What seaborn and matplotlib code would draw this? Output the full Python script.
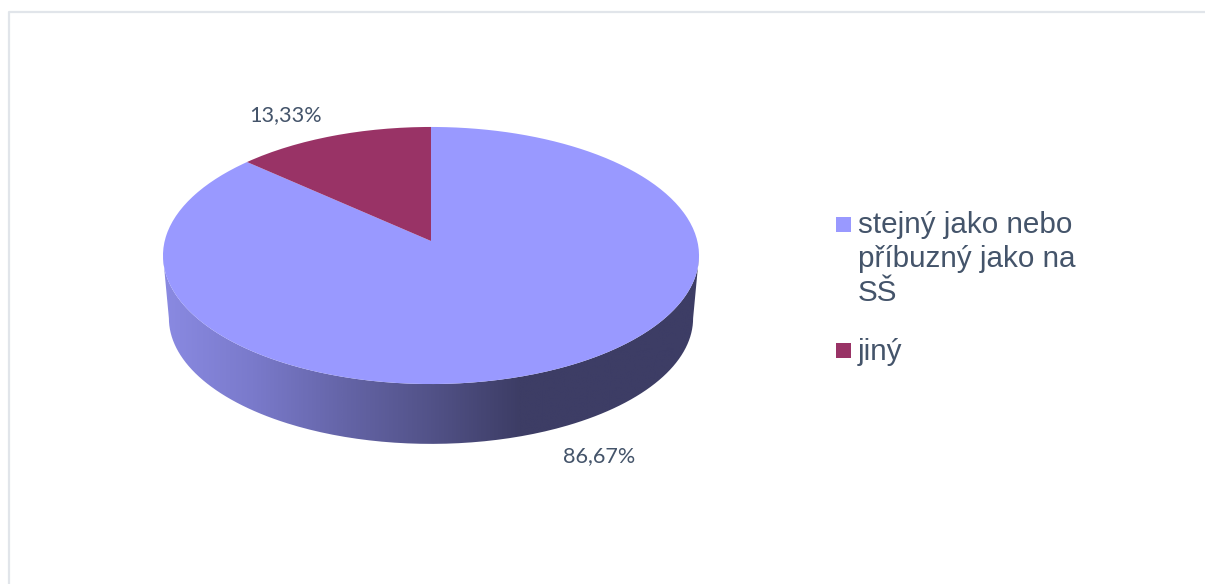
import numpy as np
import matplotlib
matplotlib.use("Agg")
import matplotlib.pyplot as plt
import seaborn as sns
from matplotlib.colors import LinearSegmentedColormap
from matplotlib.patches import PathPatch, Rectangle
from matplotlib.path import Path
from matplotlib.transforms import Affine2D, Transform

categories = ["stejný jako nebo\npříbuzný jako na\nSŠ", "jiný"]
shares = [86.67, 13.33]
slice_colors = ["#9999FF", "#993366"]
rim_colors = ["#8A8AE2", "#7A7ACB", "#6565A8", "#525288", "#3D3D65", "#3D3D65", "#3D3D65"]
text_color = "#44546A"

# perspective of the disc, in image pixels
CX, CY = 431, 241
WIDTH, DEPTH, TILT = 266.3, 126.9, 0.1128
DROP = 63
SHRINK = 0.978


def project(u, v, scale=1.0, drop=0.0):
    w = 1 + TILT * v
    return CX + scale * WIDTH * u / w, CY + drop - scale * DEPTH * v / w


class Tilted(Transform):
    input_dims = output_dims = 2
    is_affine = False

    def transform_non_affine(self, values):
        values = np.asarray(values)
        return np.column_stack(project(values[:, 0], values[:, 1]))

    def transform_path_non_affine(self, path):
        # flatten the curves first, beziers do not survive a projection
        polys = path.transformed(Affine2D().scale(500)).to_polygons(closed_only=False)
        return Path(self.transform_non_affine(np.vstack(polys) / 500))


def front_arc(scale=1.0, drop=0.0):
    start = np.arcsin(TILT)
    theta = np.linspace(np.pi + start, 2 * np.pi - start, 200)
    return np.column_stack(project(np.cos(theta), np.sin(theta), scale, drop))


sns.set_theme(style="white")
fig, ax = plt.subplots(figsize=(12.05, 5.84), dpi=100)
fig.subplots_adjust(0, 0, 1, 1)

wedges, _ = ax.pie(shares, colors=slice_colors, startangle=90, counterclock=False,
                   wedgeprops={"linewidth": 0})
tilted = Tilted() + ax.transData
for wedge in wedges:
    wedge.set_transform(tilted)
    wedge.set_zorder(3)

# rim of the disc, the gradient is clipped to the band under the top face
rim = np.vstack([front_arc(), front_arc(SHRINK, DROP)[::-1]])
rim_patch = PathPatch(Path(rim), fc="none", lw=0, transform=ax.transData)
ax.add_patch(rim_patch)
cmap = LinearSegmentedColormap.from_list("rim", rim_colors)
gradient = ax.imshow(np.linspace(0, 1, 512)[None, :], cmap=cmap, aspect="auto",
                     extent=(163, 699, 460, 240), zorder=2)
gradient.set_clip_path(rim_patch)

ax.set_aspect("auto")
ax.set_xlim(0, 1205)
ax.set_ylim(584, 0)
ax.set_axis_off()

# chart frame, open towards the right and the bottom
ax.plot([9, 9, 1205], [584, 12, 12], color="#E1E5EA", lw=1.6, zorder=1)

# data labels
label_xy = [(599, 456), (285, 115)]
for share, (x, y) in zip(shares, label_xy):
    ax.text(x, y, f"{share:.2f}%".replace(".", ","), ha="center", va="center",
            color=text_color, fontsize=15.6, family="Lato")

# legend
legend_rows = [(217, 233), (343, 360)]
for name, color, (top, baseline) in zip(categories, slice_colors, legend_rows):
    ax.add_patch(Rectangle((836, top), 15, 15, fc=color, lw=0))
    for i, line in enumerate(name.split("\n")):
        ax.text(858, baseline + 34 * i, line, va="baseline", color=text_color,
                fontsize=21.3, family="Liberation Sans")

fig.savefig("out.png", dpi=100, facecolor="white")
